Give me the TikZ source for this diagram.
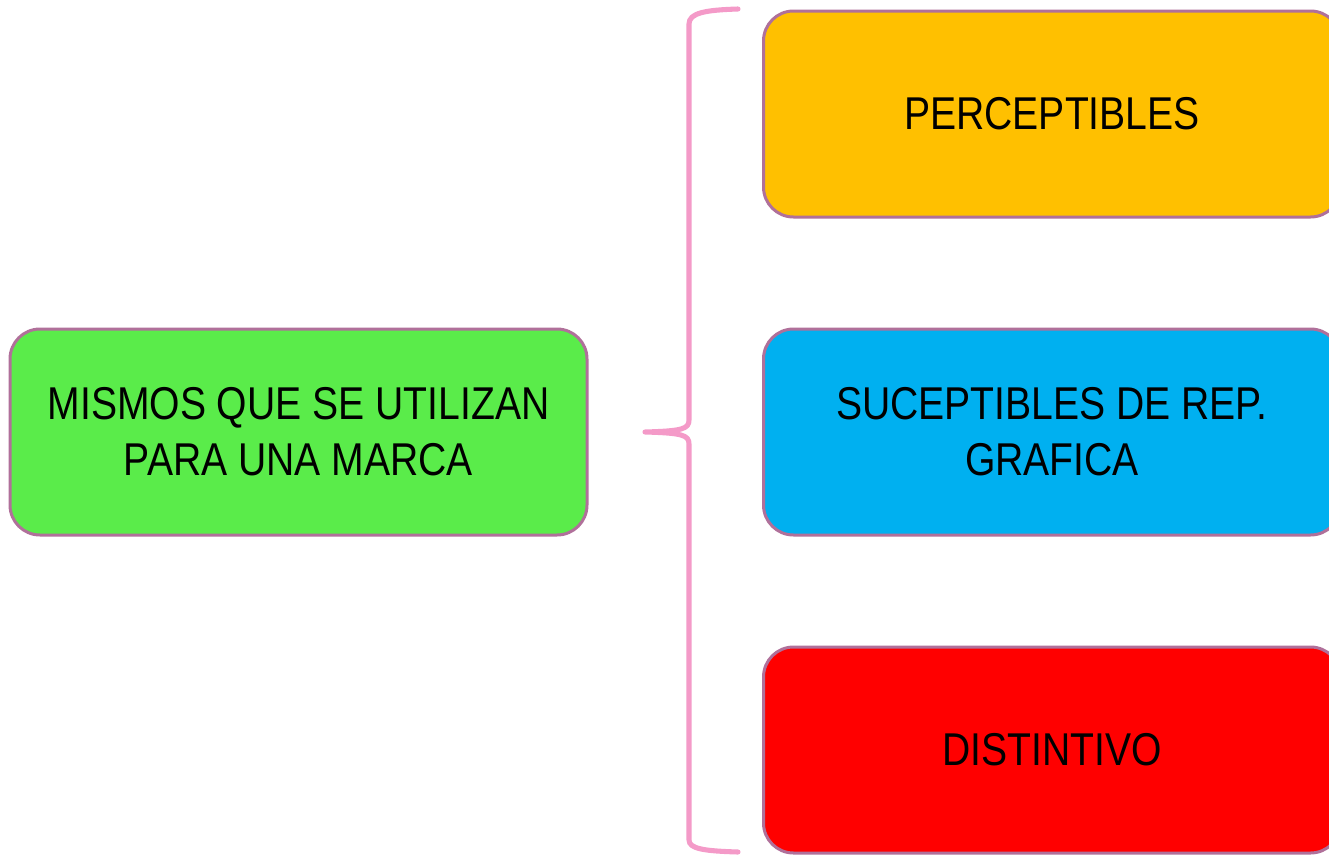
\documentclass[tikz,border=0pt]{standalone}
\usepackage{fontspec}
\setmainfont{Liberation Sans}[FakeStretch=0.85]
\definecolor{boxborder}{RGB}{176,112,154}
\definecolor{bracepink}{RGB}{244,154,200}
\definecolor{fgreen}{RGB}{90,236,74}
\definecolor{fyellow}{RGB}{255,192,0}
\definecolor{fblue}{RGB}{0,176,240}
\definecolor{fred}{RGB}{255,0,0}
\begin{document}
\begin{tikzpicture}[x=0.75pt,y=-0.75pt,
  card/.style={draw=boxborder, line width=2.25pt, rounded corners=22.5pt,
    minimum width=432.75pt, minimum height=154.5pt, align=center, inner sep=0pt,
    font=\fontsize{34.5}{42}\selectfont, text=black},
  bracestyle/.style={draw=bracepink, line width=3.8pt, line cap=round, line join=round}]
\useasboundingbox (0,0) rectangle (1329,854);
\clip (0,0) rectangle (1329,854);
\fill[white] (0,0) rectangle (1329,854);
\node[card, fill=fgreen] (main) at (298.5,432) {MISMOS QUE SE UTILIZAN\\PARA UNA MARCA};
\node[card, fill=fyellow] (perc) at (1052,114) {PERCEPTIBLES};
\node[card, fill=fblue] (susc) at (1052,432) {SUCEPTIBLES DE REP.\\GRAFICA};
\node[card, fill=fred] (dist) at (1052,750) {DISTINTIVO};
\coordinate (btop) at (738,9);
\coordinate (btip) at (645,432);
\coordinate (bbot) at (738,852);
\draw[bracestyle] (btop) .. controls (705,10) and (689,13) .. (689,24)
  -- (689,420) .. controls (689,429) and (682,431) .. (btip)
  .. controls (682,433) and (689,435) .. (689,444)
  -- (689,840) .. controls (689,849) and (705,851) .. (bbot);
\end{tikzpicture}
\end{document}
